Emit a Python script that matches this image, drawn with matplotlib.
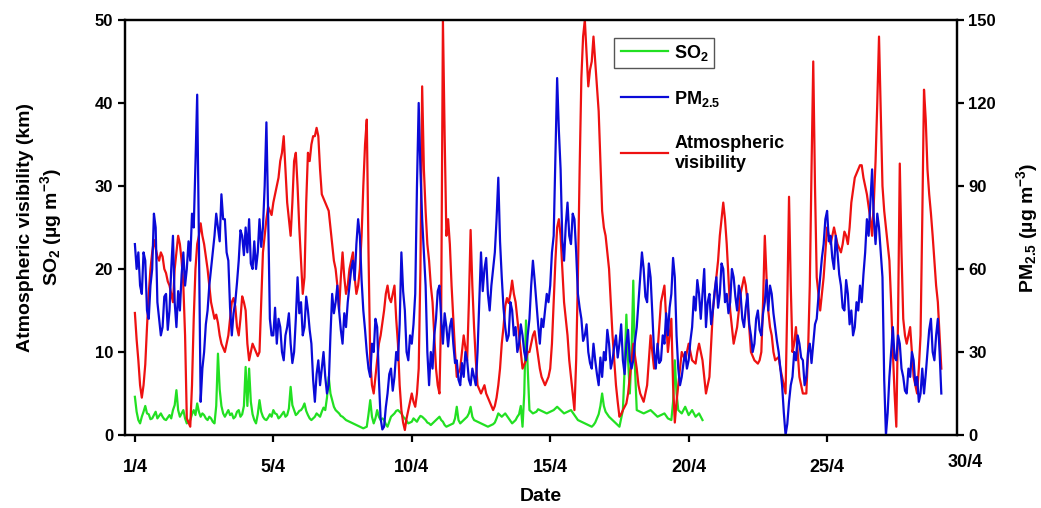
import numpy as np
import matplotlib
matplotlib.use('Agg')
import matplotlib.pyplot as plt
from matplotlib.patches import Rectangle

plt.rcParams['font.family'] = 'Liberation Sans'
plt.rcParams['font.weight'] = 'bold'
plt.rcParams['mathtext.default'] = 'regular'

# 1.5-hourly readings, x in day units (16 samples per day)
step = 0.0625

vis = [14.7, 11.5, 9, 6, 4.5, 6, 8.5, 13, 17, 20, 22, 23.5, 22.5, 21.5, 21, 22,
       21.5, 20, 19.5, 18.5, 18, 17, 16, 20, 22, 24, 23, 21, 18, 12, 2, 1.5,
       1, 6, 14, 20, 23, 24, 25.5, 24, 23, 21.5, 20, 18, 16, 15, 14, 14.5,
       13.5, 12, 11, 10.5, 10, 11, 12, 14, 16, 16.5, 15.5, 13, 12, 14, 16.7, 16,
       15, 11, 9, 10, 11, 10.5, 10, 9.5, 10, 16, 22, 24, 26, 27.5, 27, 26.5,
       28, 29, 30, 31, 33, 34, 36, 32, 28, 26, 24, 28, 33, 34, 30, 25,
       21, 17, 19, 28, 34, 33, 35, 36, 36, 37, 36, 32, 29, 28.5, 28, 27.5,
       27, 25, 23, 21, 20, 18, 15, 19, 22, 19, 17, 18, 20, 21, 22, 19,
       17, 18, 20, 24, 30, 35, 38, 22, 9, 6, 5, 7, 9, 11, 12, 13.5,
       15, 17, 18, 16.5, 16, 17, 18, 14, 11, 6, 3, 1.5, 0.6, 2, 3, 4,
       5, 4, 3.4, 5, 8, 20, 42, 32, 27, 23, 21, 18, 16, 12, 8, 6,
       5, 15, 50, 36, 24, 26, 23, 18, 14, 10, 7, 7.5, 8, 10, 12, 10.5,
       9, 16, 24.7, 18, 13, 9, 6, 5.5, 5, 5.5, 6, 5, 4.5, 4, 3.5, 3,
       3.5, 4.5, 6, 8, 11, 13, 15.5, 16.5, 15.9, 17, 18.6, 17, 16, 14, 12, 10,
       8, 8.5, 9, 10, 10, 11, 12, 12.5, 11, 9.5, 8, 7, 6.5, 6, 6.5, 7,
       8, 11, 16, 21, 25, 26, 24, 20, 16, 14, 12, 9, 7, 5, 3, 9,
       19, 32, 43, 48, 50, 46, 42, 44, 45, 48, 45, 42, 39, 33, 27, 25,
       24, 22, 20, 16, 12, 9, 6, 4, 2.2, 2.5, 3, 3.4, 3.8, 5, 7, 9,
       11, 9.5, 8, 6, 5, 4.5, 4, 5, 6, 9, 12, 10, 8, 9, 10, 13,
       16, 17, 18, 14, 10, 12, 14, 6, 1.5, 4, 6, 8, 10, 9.5, 9, 10,
       11, 10, 9, 8.8, 8.6, 10, 11, 10, 9, 7, 5, 6, 7, 11, 15, 17,
       19, 21, 24, 26, 28, 26, 23, 19, 15, 13, 11, 12, 13, 15, 17, 18,
       19, 18, 16, 13, 10, 9.5, 9, 8.8, 8.6, 9, 10, 16, 24, 19, 15, 13,
       12, 10, 9, 9.2, 9.4, 8, 7, 6, 5, 16, 28.7, 18, 10, 11, 13, 10,
       7, 6, 5, 5, 5, 10, 18, 32, 45, 30, 19, 17, 15, 17, 19, 22,
       25, 24, 23, 24, 25, 24, 23, 22.5, 22, 23, 24.5, 24, 23, 25, 28, 29.5,
       31, 31.5, 32, 32.5, 32.5, 31, 30, 29, 27.5, 26, 24, 28, 33, 40, 48, 39,
       30, 27, 25, 23, 21, 16, 10, 5, 1, 14, 32.7, 22, 14, 12, 11, 12,
       13, 10, 7, 6, 5, 8, 12, 26, 41.6, 38, 32, 29, 26.7, 24, 21, 18,
       16, 12, 8]

pm25 = [69, 60, 66, 54, 51, 66, 63, 45, 42, 54, 60, 80, 75, 48, 42, 36,
        39, 50, 51, 38, 45, 60, 72, 48, 39, 52, 45, 58, 66, 54, 60, 70,
        63, 80, 75, 98, 123, 70, 12, 24, 30, 40, 45, 54, 60, 66, 72, 80,
        75, 70, 87, 78, 78, 66, 63, 46, 36, 44, 48, 55, 63, 74, 72, 65,
        75, 66, 78, 62, 60, 70, 60, 66, 78, 68, 75, 90, 113, 80, 42, 36,
        36, 46, 33, 42, 39, 30, 27, 36, 39, 44, 33, 26, 30, 42, 57, 44,
        48, 36, 39, 50, 45, 38, 33, 20, 12, 22, 27, 18, 24, 30, 21, 15,
        18, 36, 51, 44, 48, 54, 45, 38, 33, 44, 39, 48, 54, 60, 63, 56,
        69, 78, 72, 56, 45, 38, 30, 24, 21, 33, 30, 42, 39, 20, 6, 2,
        3, 10, 15, 22, 24, 16, 21, 30, 27, 40, 66, 52, 45, 30, 27, 36,
        33, 40, 51, 90, 120, 96, 78, 66, 54, 30, 18, 30, 24, 36, 42, 52,
        54, 42, 33, 44, 39, 32, 39, 42, 33, 26, 27, 20, 18, 26, 21, 30,
        27, 20, 18, 24, 21, 18, 30, 48, 66, 52, 60, 64, 51, 45, 54, 60,
        66, 78, 93, 70, 57, 46, 39, 34, 36, 48, 45, 36, 39, 30, 33, 40,
        36, 30, 27, 36, 42, 54, 63, 56, 48, 40, 33, 42, 39, 45, 51, 48,
        54, 66, 72, 100, 129, 110, 96, 70, 63, 76, 84, 72, 69, 80, 78, 66,
        51, 46, 42, 34, 36, 40, 30, 26, 24, 33, 27, 22, 18, 28, 21, 30,
        27, 38, 33, 24, 27, 32, 36, 28, 33, 40, 27, 22, 33, 38, 27, 24,
        27, 34, 39, 48, 57, 66, 60, 50, 48, 62, 57, 44, 30, 24, 33, 26,
        27, 36, 33, 44, 36, 46, 51, 64, 57, 36, 24, 18, 21, 26, 30, 24,
        27, 34, 39, 50, 45, 56, 51, 42, 51, 60, 39, 48, 51, 40, 45, 52,
        57, 46, 51, 62, 60, 48, 51, 44, 48, 60, 57, 50, 45, 54, 51, 42,
        39, 46, 51, 40, 36, 30, 33, 42, 45, 38, 36, 44, 48, 56, 45, 54,
        51, 44, 39, 34, 30, 24, 18, 8, 0, 4, 12, 18, 21, 30, 27, 36,
        33, 28, 27, 18, 21, 30, 33, 26, 33, 40, 42, 50, 57, 64, 69, 78,
        81, 70, 72, 64, 60, 72, 66, 58, 54, 46, 45, 56, 51, 40, 45, 36,
        39, 48, 45, 54, 48, 58, 66, 78, 72, 84, 96, 78, 69, 80, 75, 66,
        57, 20, 0, 8, 21, 30, 39, 28, 27, 36, 33, 24, 21, 16, 15, 24,
        21, 30, 27, 18, 21, 12, 15, 24, 15, 22, 30, 38, 42, 30, 27, 36,
        42, 30, 15]

so2 = [4.6, 2.8, 1.8, 1.4, 2.2, 2.8, 3.5, 2.6, 2.5, 1.9, 2, 2.4, 2.8, 2.0, 2.3, 2.6,
       2.2, 1.9, 1.8, 2.1, 2.4, 2.0, 3, 3.6, 5.4, 3.0, 2.2, 2.6, 3, 2.0, 1.4, 1.6,
       1.8, 2.5, 3, 2.4, 3.8, 2.8, 2.2, 2.6, 2.4, 2.0, 1.8, 2.2, 2, 1.6, 1.4, 3.5,
       9.8, 5.5, 3.5, 2.6, 2.2, 2.6, 3, 2.4, 2.6, 2.0, 2.2, 2.8, 3, 2.2, 2.5, 3.5,
       8.2, 3.5, 8, 4, 2.5, 1.8, 1.4, 2.5, 4.2, 2.8, 2.2, 1.9, 1.8, 2.1, 2.5, 2.2,
       3, 2.6, 2.5, 2.0, 2.2, 2.5, 2.8, 2.2, 2.4, 3.2, 5.8, 3.6, 3, 2.4, 2.6, 2.9,
       3, 3.3, 3.8, 2.9, 2.4, 2.0, 1.8, 2.0, 2.2, 2.6, 2.4, 2.2, 2.8, 3.3, 3, 4.5,
       7, 5, 4.2, 3.4, 3, 2.8, 2.6, 2.3, 2.2, 2.0, 1.8, 1.7, 1.6, 1.5, 1.4, 1.3,
       1.2, 1.1, 1, 0.9, 0.8, 0.9, 1, 2.5, 4.2, 2.2, 1.4, 2.0, 3, 2.2, 1.8, 2.0,
       1.8, 1.3, 1, 1.6, 2.2, 2.4, 2.6, 2.9, 3, 2.8, 2.6, 2.2, 2, 1.7, 1.4, 1.5,
       1.6, 2.0, 1.8, 1.6, 2, 2.3, 2.2, 2.0, 1.8, 1.5, 1.4, 1.2, 1.4, 1.6, 1.8, 2.0,
       2.2, 1.8, 1.6, 1.2, 1, 1.1, 1.2, 1.3, 1.4, 2.0, 3.4, 1.8, 1.4, 1.6, 1.8, 2.0,
       2.2, 2.6, 3.4, 2.2, 1.8, 1.7, 1.6, 1.5, 1.4, 1.3, 1.2, 1.1, 1, 1.1, 1.2, 1.3,
       1.5, 2.0, 2.6, 2.4, 2.2, 2.4, 2.6, 2.3, 2, 1.7, 1.4, 1.6, 1.8, 2.2, 2.5, 3.5,
       1, 5, 13.8, 8, 3, 2.8, 2.6, 2.7, 2.8, 3.1, 3, 2.9, 2.8, 2.7, 2.6, 2.7,
       2.8, 2.9, 3, 3.2, 3.4, 3.2, 3, 2.8, 2.6, 2.7, 2.8, 2.9, 3, 2.7, 2.4, 2.1,
       1.8, 1.7, 1.6, 1.5, 1.4, 1.3, 1.2, 1.1, 1, 1.2, 1.5, 2.0, 2.5, 3.5, 5, 3.5,
       2.8, 2.5, 2.2, 2.0, 1.8, 1.6, 1.4, 1.2, 1, 2.0, 3, 8, 14.5, 9, 5, 10,
       18.6, 8, 3, 2.9, 2.8, 2.7, 2.6, 2.7, 2.8, 2.9, 3, 2.8, 2.6, 2.4, 2.2, 2.3,
       2.4, 2.5, 2.6, 2.3, 2, 1.9, 1.8, 4, 9, 5, 3, 2.8, 2.6, 3.0, 3.4, 2.9,
       2.4, 2.7, 3, 2.6, 2.2, 2.4, 2.6, 2.2, 1.8]

tick_pos = [0, 5, 10, 15, 20, 25]
tick_labels = ['1/4', '5/4', '10/4', '15/4', '20/4', '25/4']

t_vis = np.arange(len(vis)) * step
t_pm = np.arange(len(pm25)) * step
t_so2 = np.arange(len(so2)) * step

fig = plt.figure(figsize=(10.41, 5.08), dpi=100)
ax = fig.add_axes([0.120, 0.1437, 0.799, 0.817])
ax2 = ax.twinx()

lg, = ax.plot(t_so2, so2, color='#22e022', lw=1.6)
lr, = ax.plot(t_vis, vis, color='#ee1111', lw=1.6)
lb, = ax2.plot(t_pm, pm25, color='#0a0ad8', lw=1.6)

ax.set_xlim(-0.36, 29.68)
ax.set_ylim(0, 50)
ax2.set_ylim(0, 150)
ax.set_yticks([0, 10, 20, 30, 40, 50])
ax2.set_yticks([0, 30, 60, 90, 120, 150])
ax.set_xticks(tick_pos)
ax.set_xticklabels(tick_labels)
ax.text(30, -0.045, '30/4', transform=ax.get_xaxis_transform(),
        ha='center', va='top', fontsize=13, fontweight='bold')

for a in (ax, ax2):
    for s in a.spines.values():
        s.set_linewidth(1.6)
    a.tick_params(direction='out', length=5, width=1.6, labelsize=12)
ax.tick_params(axis='x', pad=12, labelsize=13)

ax.set_xlabel('Date', fontsize=14, fontweight='bold', labelpad=9)
ax.set_ylabel('Atmospheric visibility (km)\nSO$_2$ (µg m$^{-3}$)',
              fontsize=14, fontweight='bold', labelpad=22, linespacing=1.2)
ax2.set_ylabel('PM$_{2.5}$ (µg m$^{-3}$)', fontsize=14, fontweight='bold',
               labelpad=13)

leg = ax2.legend([lg, lb, lr], ['SO$_2$', 'PM$_{2.5}$', 'Atmospheric\nvisibility'],
                 loc='upper left', bbox_to_anchor=(0.588, 0.963), frameon=False,
                 fontsize=13, handlelength=2.6, handletextpad=0.35,
                 labelspacing=1.45, borderaxespad=0)

# box drawn only around the first legend entry
fig.canvas.draw()
r = fig.canvas.get_renderer()
b1 = leg.get_lines()[0].get_window_extent(r)
b2 = leg.get_texts()[0].get_window_extent(r)
x0, x1 = min(b1.x0, b2.x0) - 7, max(b1.x1, b2.x1) + 5
y0, y1 = min(b1.y0, b2.y0) - 5, max(b1.y1, b2.y1) + 5
W, H = fig.bbox.width, fig.bbox.height
fig.patches.append(Rectangle((x0 / W, y0 / H), (x1 - x0) / W, (y1 - y0) / H,
                             transform=fig.transFigure, fill=False,
                             edgecolor='#555555', lw=1.0, zorder=10))

fig.savefig('out.png', dpi=100)
